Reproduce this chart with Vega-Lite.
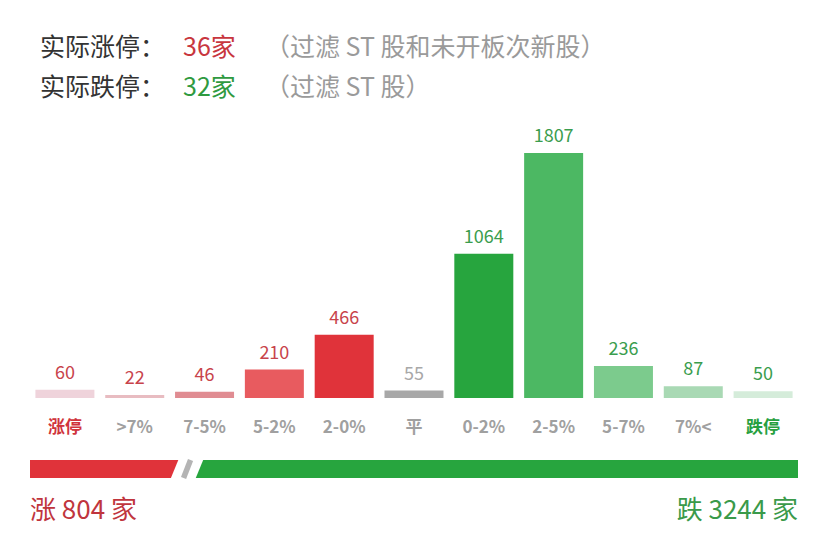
{
  "$schema": "https://vega.github.io/schema/vega-lite/v6.json",
  "padding": {"left": 30, "top": 0, "right": 30, "bottom": 0},
  "background": "white",
  "spacing": 0,
  "config": {"view": {"stroke": null}, "font": "Noto Sans CJK SC", "concat": {"spacing": 0}},
  "resolve": {"scale": {"color": "independent"}},
  "vconcat": [
    {
      "width": 768,
      "height": 110,
      "data": {"values": [
        {"row": "涨", "part": "label", "text": "实际涨停：", "tone": "dark"},
        {"row": "涨", "part": "count", "text": "36家", "tone": "up"},
        {"row": "涨", "part": "note", "text": "（过滤 ST 股和未开板次新股）", "tone": "note"},
        {"row": "跌", "part": "label", "text": "实际跌停：", "tone": "dark"},
        {"row": "跌", "part": "count", "text": "32家", "tone": "down"},
        {"row": "跌", "part": "note", "text": "（过滤 ST 股）", "tone": "note"}
      ]},
      "encoding": {
        "x": {"field": "part", "type": "nominal", "scale": {"type": "point", "domain": ["label", "count", "note"], "range": [10, 235], "padding": 0}, "axis": null},
        "y": {"field": "row", "type": "nominal", "scale": {"type": "point", "domain": ["涨", "跌"], "range": [48, 88], "padding": 0}, "axis": null},
        "text": {"field": "text"},
        "color": {"field": "tone", "type": "nominal", "scale": {"domain": ["dark", "up", "down", "note"], "range": ["#333333", "#c8363e", "#2f9a40", "#9a9a9a"]}, "legend": null}
      },
      "layer": [
        {"transform": [{"filter": "datum.part === 'label'"}], "mark": {"type": "text", "align": "left", "baseline": "middle", "fontSize": 25}},
        {"transform": [{"filter": "datum.part === 'count'"}], "mark": {"type": "text", "align": "left", "baseline": "middle", "fontSize": 25, "dx": 30.5}},
        {"transform": [{"filter": "datum.part === 'note'"}], "mark": {"type": "text", "align": "left", "baseline": "middle", "fontSize": 25}}
      ]
    },
    {
      "width": 768,
      "height": 288,
      "data": {"values": [
        {"range": "涨停", "count": 60, "side": "up"},
        {"range": ">7%", "count": 22, "side": "up"},
        {"range": "7-5%", "count": 46, "side": "up"},
        {"range": "5-2%", "count": 210, "side": "up"},
        {"range": "2-0%", "count": 466, "side": "up"},
        {"range": "平", "count": 55, "side": "flat"},
        {"range": "0-2%", "count": 1064, "side": "down"},
        {"range": "2-5%", "count": 1807, "side": "down"},
        {"range": "5-7%", "count": 236, "side": "down"},
        {"range": "7%<", "count": 87, "side": "down"},
        {"range": "跌停", "count": 50, "side": "down"}
      ]},
      "encoding": {
        "x": {
          "field": "range", "type": "nominal", "sort": null,
          "scale": {"paddingInner": 0.155, "paddingOuter": 0.0775},
          "axis": {
            "title": null, "labelAngle": 0, "domain": false, "ticks": false,
            "labelPadding": 21, "labelFontSize": 17, "labelFontWeight": "bold",
            "labelColor": {"condition": [
              {"test": "datum.value === '涨停'", "value": "#d0343c"},
              {"test": "datum.value === '跌停'", "value": "#27a040"}
            ], "value": "#a0a0a0"}
          }
        },
        "y": {"field": "count", "type": "quantitative", "scale": {"domain": [0, 2124], "nice": false}, "axis": null}
      },
      "layer": [
        {
          "mark": {"type": "bar"},
          "encoding": {
            "color": {"field": "range", "type": "nominal", "legend": null,
              "scale": {
                "domain": ["涨停", ">7%", "7-5%", "5-2%", "2-0%", "平", "0-2%", "2-5%", "5-7%", "7%<", "跌停"],
                "range": ["#efd3db", "#e8bcc1", "#e08c92", "#e85b5f", "#e0333a", "#a8a8a8", "#27a53e", "#4cb863", "#7ccb8d", "#a9d9b4", "#d5ecda"]
              }
            }
          }
        },
        {
          "mark": {"type": "text", "baseline": "bottom", "dy": -7, "fontSize": 18},
          "encoding": {
            "text": {"field": "count"},
            "color": {"field": "side", "type": "nominal", "legend": null,
              "scale": {"domain": ["up", "flat", "down"], "range": ["#c8434b", "#a8a8a8", "#3a9d4e"]}
            }
          }
        }
      ],
      "resolve": {"scale": {"color": "independent"}}
    },
    {
      "width": 768,
      "height": 117,
      "data": {"values": [
        {"side": "涨", "count": 804, "label": "涨 804 家"},
        {"side": "跌", "count": 3244, "label": "跌 3244 家"}
      ]},
      "transform": [
        {"stack": "count", "groupby": [], "as": ["x0", "x1"], "sort": [{"field": "side", "order": "ascending"}]}
      ],
      "encoding": {
        "y": {"datum": 0, "type": "quantitative", "scale": {"domain": [-4.11, 2.39], "nice": false, "zero": false}, "axis": null}
      },
      "layer": [
        {
          "mark": {"type": "bar"},
          "encoding": {
            "x": {"field": "x0", "type": "quantitative", "scale": {"domain": [0, 4048], "nice": false}, "axis": null},
            "x2": {"field": "x1"},
            "y2": {"datum": 1},
            "color": {"field": "side", "type": "nominal", "legend": null, "scale": {"domain": ["涨", "跌"], "range": ["#e0333a", "#27a53e"]}}
          }
        },
        {
          "transform": [{"filter": "datum.side === '涨'"}],
          "mark": {"type": "rule", "color": "white", "strokeWidth": 23, "xOffset": -1.4, "x2Offset": 10.4},
          "encoding": {
            "x": {"field": "x1", "type": "quantitative"},
            "x2": {"field": "x1"},
            "y": {"datum": -0.3},
            "y2": {"datum": 1.3}
          }
        },
        {
          "transform": [{"filter": "datum.side === '涨'"}],
          "mark": {"type": "rule", "color": "#b4b4b4", "strokeWidth": 5.5, "xOffset": 1, "x2Offset": 8},
          "encoding": {
            "x": {"field": "x1", "type": "quantitative"},
            "x2": {"field": "x1"},
            "y": {"datum": 0},
            "y2": {"datum": 1}
          }
        },
        {
          "transform": [{"filter": "datum.side === '涨'"}],
          "mark": {"type": "text", "align": "left", "baseline": "middle", "fontSize": 26, "color": "#c0353d"},
          "encoding": {
            "x": {"field": "x0", "type": "quantitative"},
            "y": {"datum": -1.83},
            "text": {"field": "label"}
          }
        },
        {
          "transform": [{"filter": "datum.side === '跌'"}],
          "mark": {"type": "text", "align": "right", "baseline": "middle", "fontSize": 26, "color": "#3a9a4a"},
          "encoding": {
            "x": {"field": "x1", "type": "quantitative"},
            "y": {"datum": -1.83},
            "text": {"field": "label"}
          }
        }
      ]
    }
  ]
}
